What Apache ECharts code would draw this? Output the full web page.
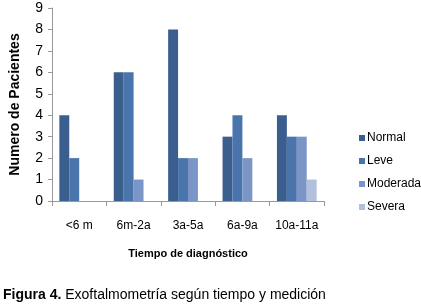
<!DOCTYPE html>
<html><head><meta charset="utf-8">
<script src="https://cdn.jsdelivr.net/npm/echarts@6/dist/echarts.min.js"></script>
<style>html,body{margin:0;padding:0;background:#fff}#c{width:421px;height:307px}</style>
</head><body><div id="c"></div>
<script>
const categories = ['<6 m', '6m-2a', '3a-5a', '6a-9a', '10a-11a'];
const seriesNames = ['Normal', 'Leve', 'Moderada', 'Severa'];
const normal = [4, 6, 8, 3, 4];
const leve = [2, 6, 2, 4, 3];
const moderada = [0, 1, 2, 2, 3];
const severa = [0, 0, 0, 0, 1];
const yTicks = [0, 1, 2, 3, 4, 5, 6, 7, 8, 9];
const colors = ['#3A5F8F', '#4A74AC', '#7B96C6', '#B0C0DD'];
const values = [normal, leve, moderada, severa];
const font = '"Liberation Sans", Arial, sans-serif';
const chart = echarts.init(document.getElementById('c'));
chart.setOption({
  animation: false,
  grid: {left: 46, right: 97, top: 8, bottom: 106},
  legend: {
    orient: 'vertical', left: 354, top: 127, itemGap: 11, itemWidth: 6, itemHeight: 6,
    icon: 'rect', textStyle: {fontFamily: font, fontSize: 12, color: '#000', padding: [0,0,0,-3]},
    data: seriesNames
  },
  xAxis: {
    type: 'category', data: categories,
    axisLine: {lineStyle: {color: '#999'}},
    axisTick: {show: true, length: 5, lineStyle: {color: '#999'}},
    axisLabel: {fontFamily: font, fontSize: 12, color: '#000', margin: 19, interval: 0},
    name: 'Tiempo de diagnóstico', nameLocation: 'middle', nameGap: 47,
    nameTextStyle: {fontFamily: font, fontWeight: 'bold', fontSize: 11, color: '#000'}
  },
  yAxis: {
    type: 'value', min: 0, max: 9, interval: 1,
    axisLine: {show: true, lineStyle: {color: '#999'}},
    axisTick: {show: true, length: 4, lineStyle: {color: '#999'}},
    splitLine: {show: false},
    axisLabel: {fontFamily: font, fontSize: 14, color: '#000', margin: 9,
      formatter: v => yTicks.includes(v) ? String(v) : ''},
    name: 'Numero de Pacientes', nameLocation: 'middle', nameGap: 30, nameRotate: 90,
    nameTextStyle: {fontFamily: font, fontWeight: 'bold', fontSize: 14, color: '#000'}
  },
  series: seriesNames.map((n, i) => ({
    name: n, type: 'bar', data: values[i], barGap: '0%', barCategoryGap: '27%',
    itemStyle: {color: colors[i]}
  })),
  graphic: [{
    type: 'text', left: 3, top: 288,
    style: {rich: {b: {fontWeight: 'bold', fontSize: 14, fontFamily: font, fill: '#000'},
                   n: {fontSize: 14, fontFamily: font, fill: '#000'}},
            text: '{b|Figura 4.}{n| Exoftalmometría según tiempo y medición}'}
  }]
});
</script></body></html>
